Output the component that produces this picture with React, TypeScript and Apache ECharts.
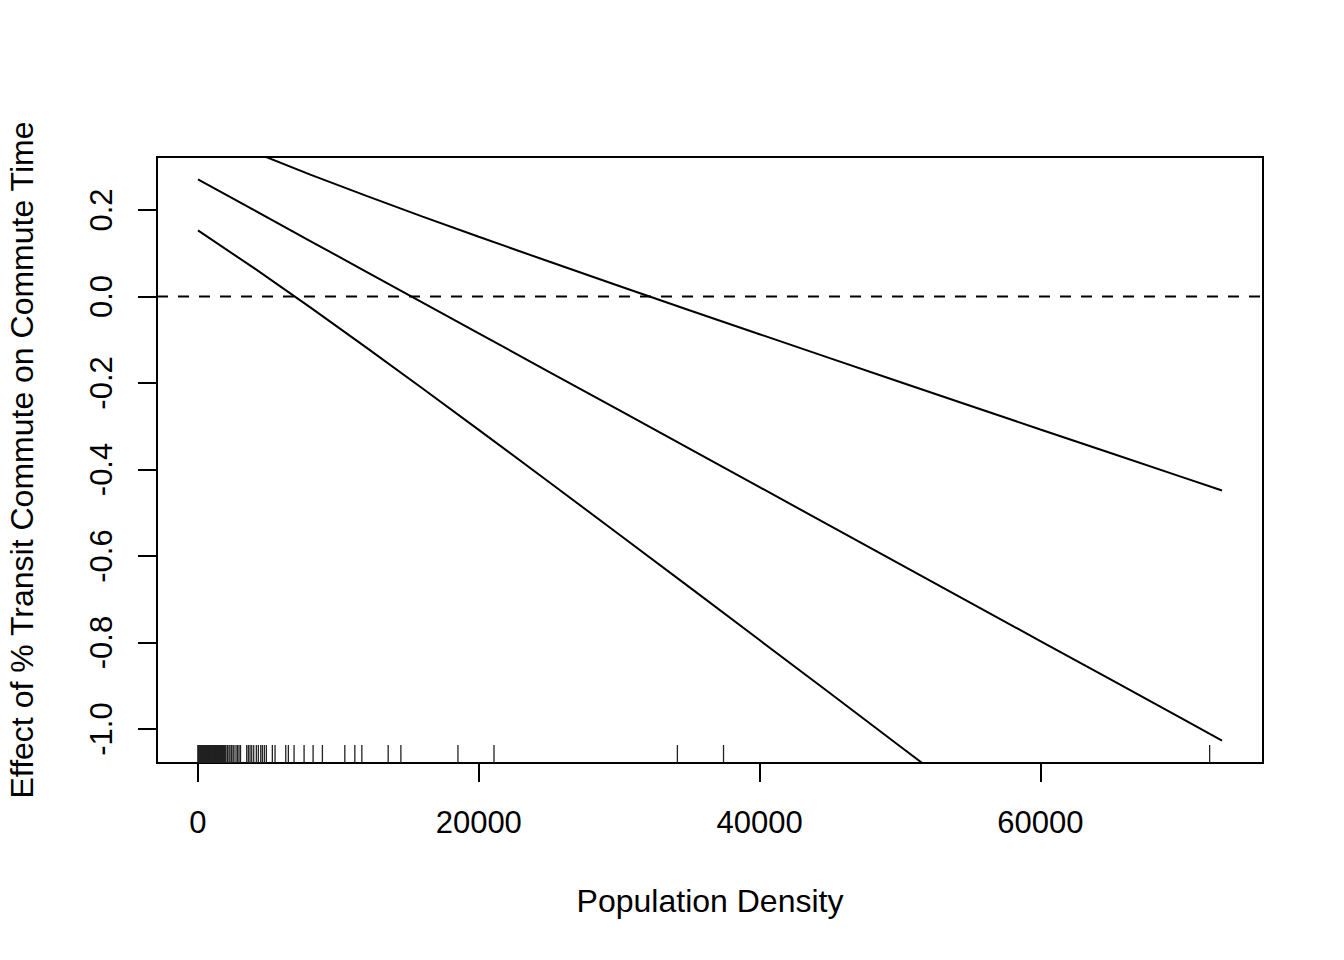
import React, { useEffect, useRef } from "react";
import * as echarts from "echarts";

// Axis ranges (R-style 4% extension)
const X_MIN = -2918;
const X_MAX = 75858;
const Y_MIN = -1.0785;
const Y_MAX = 0.3224;

const xTicks = [0, 20000, 40000, 60000];
const yTicks = [-1.0, -0.8, -0.6, -0.4, -0.2, 0.0, 0.2];

// Population density grid where the effect is evaluated
const density = [0, 4000, 8000, 12000, 16000, 20000, 25000, 30000, 35000, 40000, 45000, 50000, 55000, 60000, 65000, 70000, 72940];
// Estimated marginal effect
const effect = [0.2705, 0.1994, 0.1282, 0.0571, -0.014, -0.0852, -0.1741, -0.263, -0.3519, -0.4408, -0.5297, -0.6187, -0.7076, -0.7965, -0.8854, -0.9743, -1.0266];
// Upper confidence bound
const upper = [0.3884, 0.3334, 0.2817, 0.2324, 0.1847, 0.138, 0.0807, 0.0242, -0.0318, -0.0873, -0.1426, -0.1977, -0.2526, -0.3074, -0.362, -0.4165, -0.4486];
// Lower confidence bound
const lower = [0.1526, 0.0654, -0.0253, -0.1182, -0.2127, -0.3084, -0.4289, -0.5502, -0.672, -0.7943, -0.9168, -1.0396, -1.1626, -1.2856, -1.4088, -1.5321, -1.6046];

// Rug of observed population densities
const rugX = [
  0, 20, 45, 70, 95, 120, 150, 170, 190, 215, 240, 270, 300, 325, 350, 375, 400, 430, 460, 485,
  510, 540, 570, 595, 620, 650, 680, 705, 730, 760, 790, 820, 850, 875, 900, 930, 960, 985, 1010,
  1040, 1070, 1100, 1130, 1155, 1180, 1210, 1240, 1270, 1300, 1325, 1350, 1380, 1410, 1440, 1470,
  1495, 1520, 1550, 1580, 1610, 1640, 1670, 1700, 1730, 1760, 1790, 1820, 1850, 1880, 1910, 1940,
  1996, 2103, 2210, 2281, 2389, 2496, 2567, 2710, 2817, 2923, 3030,
  3472, 3587, 3708, 3829, 3971, 4157, 4300, 4471, 4585, 4727, 4870, 5298, 5490,
  6253, 6439, 6845, 7558, 8200, 8863, 10460, 11173, 11672, 13547, 14453, 18517, 21084,
  34147, 37433, 72057,
];

const FONT = "'Liberation Sans', Arial, Helvetica, sans-serif";
const FS = 31;
const FS_TITLE = 32;

export default function App() {
  const ref = useRef<HTMLDivElement>(null);

  useEffect(() => {
    if (!ref.current) return;
    const chart = echarts.init(ref.current, null, { renderer: "svg", width: 1344, height: 960 });
    const lineSeries = (vals: number[]) => ({
      type: "line",
      data: density.map((x, i) => [x, vals[i]]),
      symbol: "none",
      silent: true,
      clip: true,
      lineStyle: { color: "#000", width: 2 },
    });
    chart.setOption({
      animation: false,
      backgroundColor: "#fff",
      grid: {
        left: 157,
        top: 157,
        width: 1106,
        height: 606,
        show: true,
        borderColor: "#000",
        borderWidth: 2,
        backgroundColor: "transparent",
        containLabel: false,
        outerBoundsMode: "none",
      },
      xAxis: {
        type: "value",
        min: X_MIN,
        max: X_MAX,
        axisLine: { show: false, onZero: false },
        splitLine: { show: false },
        axisTick: { show: true, length: 19, lineStyle: { color: "#000", width: 2 }, customValues: xTicks },
        axisLabel: {
          customValues: xTicks,
          fontFamily: FONT,
          fontSize: FS,
          color: "#000",
          margin: 44,
          formatter: (v: number) => String(Math.round(v)),
        },
        name: "Population Density",
        nameLocation: "middle",
        nameGap: 122,
        nameTextStyle: { fontFamily: FONT, fontSize: FS_TITLE, color: "#000" },
      },
      yAxis: {
        type: "value",
        min: Y_MIN,
        max: Y_MAX,
        axisLine: { show: false, onZero: false },
        splitLine: { show: false },
        axisTick: { show: true, length: 19, lineStyle: { color: "#000", width: 2 }, customValues: yTicks },
        axisLabel: {
          customValues: yTicks,
          rotate: 90,
          fontFamily: FONT,
          fontSize: FS,
          color: "#000",
          margin: 40,
          formatter: (v: number) => v.toFixed(1),
        },
        name: "Effect of % Transit Commute on Commute Time",
        nameLocation: "middle",
        nameRotate: 90,
        nameGap: 119,
        nameTextStyle: { fontFamily: FONT, fontSize: FS_TITLE, color: "#000" },
      },
      series: [
        lineSeries(effect),
        lineSeries(upper),
        lineSeries(lower),
        {
          type: "line",
          data: [[X_MIN, 0], [X_MAX, 0]],
          symbol: "none",
          silent: true,
          lineStyle: { color: "#000", width: 2, type: [11, 10] },
        },
        {
          type: "custom",
          silent: true,
          data: rugX.map((x) => [x, Y_MIN]),
          renderItem: (params: any, api: any) => {
            const p = api.coord([api.value(0), Y_MIN]);
            return {
              type: "line",
              shape: { x1: p[0], y1: p[1], x2: p[0], y2: p[1] - 18 },
              style: { stroke: "#222", lineWidth: 1.3 },
            };
          },
        },
      ],
    });
    return () => chart.dispose();
  }, []);

  return (
    <div
      ref={ref}
      style={{ position: "fixed", left: 0, top: 0, width: 1344, height: 960, background: "#fff" }}
    />
  );
}
